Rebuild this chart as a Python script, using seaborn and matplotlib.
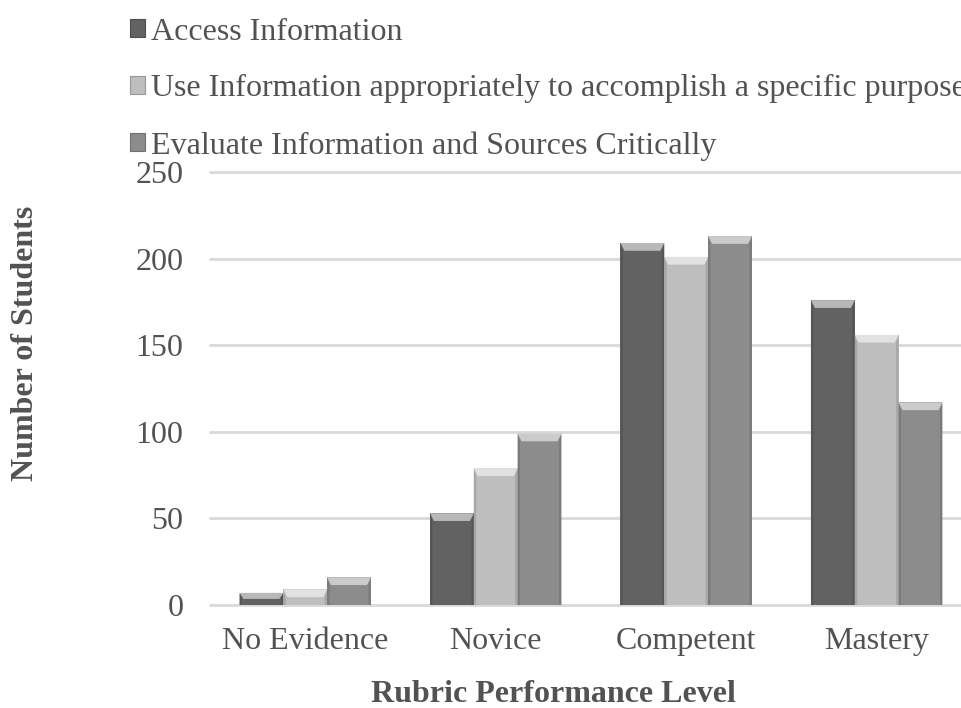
import matplotlib
matplotlib.use("Agg")
import matplotlib.pyplot as plt
import matplotlib.colors as mcolors
from matplotlib.patches import Polygon, Patch
import numpy as np
import pandas as pd
import seaborn as sns

# Chart data
levels = ["No Evidence", "Novice", "Competent", "Mastery"]
series = [
    "Access Information",
    "Use Information appropriately to accomplish a specific purpose",
    "Evaluate Information and Sources Critically",
]
access = [7, 53, 209, 176]
use_info = [9, 79, 201, 156]
evaluate = [16, 99, 213, 117]
y_ticks = [0, 50, 100, 150, 200, 250]

colors = ["#626262", "#bebebe", "#8c8c8c"]
TEXT = "#525252"

df = pd.DataFrame({
    "level": levels * 3,
    "series": np.repeat(series, len(levels)),
    "students": access + use_info + evaluate,
})

sns.set_theme(style="white")
plt.rcParams["font.family"] = ["Liberation Serif", "DejaVu Serif"]
FS = 23

fig = plt.figure(figsize=(9.62, 7.08), dpi=100)
ax = fig.add_axes([0.2183, 0.1455, 0.792, 0.6116])

sns.barplot(data=df, x="level", y="students", hue="series",
            order=levels, hue_order=series, palette=colors,
            saturation=1, width=0.69, linewidth=0, legend=False,
            ax=ax, zorder=3)

ax.set_ylim(0, 250)
ax.set_xlim(-0.5, 3.5)
ax.set_yticks(y_ticks)
ax.yaxis.grid(True, color="#d9d9d9", linewidth=2)
for gl in ax.get_ygridlines():
    gl.set_clip_on(False)
ax.set_axisbelow(True)
for s in ax.spines.values():
    s.set_visible(False)
ax.tick_params(axis="y", length=0, pad=19, labelsize=FS, labelcolor=TEXT)
ax.tick_params(axis="x", length=0, pad=16, labelsize=FS, labelcolor=TEXT)
ax.set_xlabel("")
ax.set_ylabel("")


def shade(c, amt):
    r = np.array(mcolors.to_rgb(c))
    if amt > 0:
        return tuple(r + (1 - r) * amt)
    return tuple(r * (1 + amt))


# Bevelled look: light cap on top and darker side strips on each bar
for bar in list(ax.patches):
    x, w, h = bar.get_x(), bar.get_width(), bar.get_height()
    if h <= 0:
        continue
    fc = bar.get_facecolor()
    inset = w * 0.09
    cap = min(4.5, h * 0.5)
    ax.add_patch(Polygon([(x, h), (x + w, h), (x + w - inset, h - cap), (x + inset, h - cap)],
                         closed=True, facecolor=shade(fc, 0.55), edgecolor="none", zorder=4))
    ax.add_patch(Polygon([(x, 0), (x + inset * 0.6, 0), (x + inset * 0.6, h - cap), (x, h)],
                         closed=True, facecolor=shade(fc, -0.12), edgecolor="none", zorder=4))
    ax.add_patch(Polygon([(x + w - inset * 0.6, 0), (x + w, 0), (x + w, h), (x + w - inset * 0.6, h - cap)],
                         closed=True, facecolor=shade(fc, -0.12), edgecolor="none", zorder=4))

handles = [Patch(facecolor=c, edgecolor=shade(c, -0.2), linewidth=0.8) for c in colors]
fig.legend(handles, series, loc="upper left", bbox_to_anchor=(0.130, 0.982),
           frameon=False, fontsize=FS, handlelength=0.47, handleheight=0.47,
           handletextpad=0.19, labelspacing=0.87, borderaxespad=0, borderpad=0.15,
           labelcolor=TEXT)

fig.text(0.026, 0.5155, "Number of Students", rotation=90, ha="center", va="center",
         fontsize=FS, fontweight="bold", color=TEXT)
fig.text(0.575, 0.008, "Rubric Performance Level", ha="center", va="baseline",
         fontsize=FS, fontweight="bold", color=TEXT)

fig.savefig("out.png", dpi=100)
